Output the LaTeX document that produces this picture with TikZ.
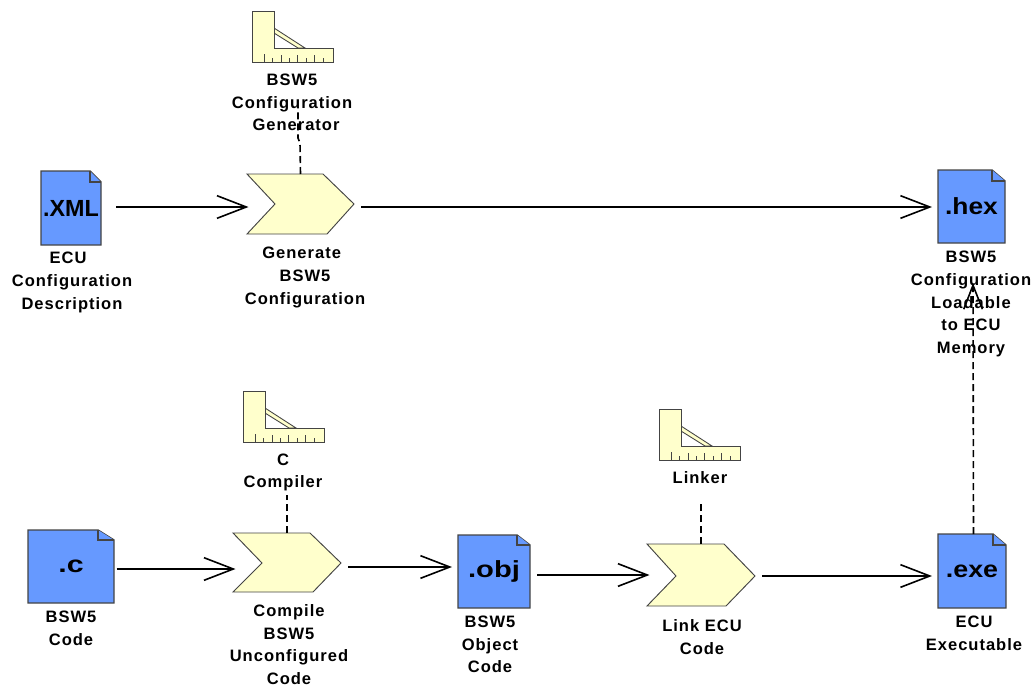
\documentclass[tikz,border=0pt]{standalone}
\usepackage{fontspec}
\usepackage{graphicx}
\usetikzlibrary{arrows.meta,calc}
\setmainfont{Liberation Sans}
\newfontfamily\labelfont[LetterSpace=6]{Liberation Sans}
\newfontfamily\docfont{Liberation Sans}
\definecolor{docblue}{HTML}{6699FF}
\definecolor{paleyellow}{HTML}{FFFFCC}
\definecolor{edge}{HTML}{444444}
\def\u{0.75pt}
\tikzset{
  docshape/.style={draw=edge,fill=docblue,line width=1.1pt,line join=miter},
  docfold/.style={draw=edge,fill=docblue,line width=0.8pt},
  chevshape/.style={draw=edge,fill=paleyellow,line width=0.7pt},
  rulershape/.style={draw=edge,fill=paleyellow,line width=0.65pt},
  rulertick/.style={draw=edge,line width=0.55pt},
  holder/.style={inner sep=0pt,outer sep=0pt},
  doctext/.style={holder,font=\docfont\fontsize{17.5}{20}\selectfont\bfseries,text=black},
  lab/.style={holder,align=center,text=black,font=\labelfont\fontsize{12.4}{17}\selectfont\bfseries},
  flow/.style={draw=black,line width=1.2pt,-{Straight Barb[length=22pt,width=17pt,line width=1.2pt]}},
  tie/.style={draw=black,line width=1.2pt,dash pattern=on 5.25pt off 3pt},
  tiearrow/.style={tie,-{Straight Barb[length=18pt,width=14pt,line width=1.2pt]}}
}
% name, x0, y0, x1, y1, fold w, fold h, text
\newcommand\docat[8]{%
  \path[docshape] (#2,#3) -- ({#4-#6},#3) -- (#4,{#3+#7}) -- (#4,#5) -- (#2,#5) -- cycle;
  \path[docfold] ({#4-#6},#3) -- ({#4-#6},{#3+#7}) -- (#4,{#3+#7});
  \node[doctext,minimum width={(#4-#2)*\u},minimum height={(#5-#3)*\u}] (#1) at ({(#2+#4)/2},{(#3+#5)/2}) {#8};
}
% name, left, top, notch, top right, tip, midy, bottom right, bottom
\newcommand\chevat[9]{%
  \path[chevshape] (#2,#3) -- (#5,#3) -- (#6,#7) -- (#8,#9) -- (#2,#9) -- (#4,#7) -- cycle;
  \node[holder,minimum width={(#6-#2)*\u},minimum height={(#9-#3)*\u}] (#1) at ({(#2+#6)/2},{(#3+#9)/2}) {};
}
% name, left, top
\newcommand\rulerat[3]{%
  \begin{scope}[shift={(#2,#3)}]
    \path[rulershape] (22,17) -- (53,37) -- (46,37) -- (22,22) -- cycle;
    \path[rulershape] (0,0) -- (22,0) -- (22,37) -- (81,37) -- (81,51) -- (0,51) -- cycle;
    \foreach \tx/\th in {12/8,20.5/4,29/7,37/4,45.5/7,54/4,62/7,71/4}
      \path[rulertick] (\tx,51) -- (\tx,{51-\th});
    \node[holder,minimum width={81*\u},minimum height={51*\u}] (#1) at (40.5,25.5) {};
  \end{scope}
}
\begin{document}
\begin{tikzpicture}[x=\u,y=-\u]
\useasboundingbox (0,0) rectangle (1033,686);

\docat{xml}{41}{171}{101}{245}{11}{11}{.XML}
\docat{hex}{938}{170}{1005}{243}{13}{11}{\raisebox{-0.75pt}{\scalebox{1.13}[1]{.hex}}}
\docat{csrc}{28}{530}{114}{603}{16}{10}{\raisebox{-2pt}{\scalebox{1.3}[1]{.c}}}
\docat{obj}{458}{535}{530}{608}{13}{10}{\raisebox{-2pt}{\scalebox{1.25}[1]{.obj}}}
\docat{exe}{938}{534}{1006}{608}{13}{11}{\raisebox{-2.5pt}{\scalebox{1.15}[1]{.exe}}}

\chevat{gen}{247}{174}{275}{323}{354}{204}{327}{234}
\chevat{comp}{233}{533}{262}{310}{341}{563}{313}{592}
\chevat{link}{647}{544}{676}{724}{755}{576}{726}{606}

\rulerat{genTool}{252}{11}
\rulerat{compTool}{243}{391}
\rulerat{linkTool}{659}{409}

\coordinate (genTieA) at (300,143);
\coordinate (genTieB) at (298,138);
\coordinate (genTieEnd) at (298,107);
\coordinate (compTieEnd) at (287,495);
\coordinate (linkTieEnd) at (701,502);

\draw[flow] ([xshift=15*\u,yshift=1*\u]xml.east) -- ([xshift=1.5*\u,yshift=-3*\u]gen.west);
\draw[flow] ([xshift=7*\u,yshift=-3*\u]gen.east) -- ([xshift=-6*\u,yshift=-0.5*\u]hex.west);
\draw[flow] ([xshift=2.5*\u,yshift=-2.5*\u]csrc.east) -- ([xshift=2.5*\u,yshift=-6.5*\u]comp.west);
\draw[flow] ([xshift=7*\u,yshift=-4.5*\u]comp.east) -- ([xshift=-6*\u,yshift=4.5*\u]obj.west);
\draw[flow] ([xshift=7*\u,yshift=-3.5*\u]obj.east) -- ([xshift=2.5*\u]link.west);
\draw[flow] ([xshift=7*\u,yshift=-1*\u]link.east) -- ([xshift=-6*\u,yshift=-5*\u]exe.west);

\draw[tie] (gen.north) -- (genTieA) -- (genTieB) -- (genTieEnd);
\draw[tie] (comp.north) -- (compTieEnd);
\draw[tie] (link.north) -- (linkTieEnd);
\draw[tiearrow] ([xshift=1.5*\u]exe.north) -- ([xshift=1.5*\u,yshift=-40*\u]hex.south);

\node[lab] (lgenTool) at (292,102.5) {BSW5\\Configuration\\\hspace*{6pt}Generator};
\node[lab] (lxml) at (72,282.5) {\hspace*{-6pt}ECU\\Configuration\\Description};
\node[lab] (lgen) at (305,277.5) {\hspace*{-5pt}Generate\\BSW5\\Configuration};
\node[lab] (lhex) at (971,304) {BSW5\\Configuration\\Loadable\\to ECU\\Memory};
\node[lab] (lcompTool) at (283,472.5) {C\\Compiler};
\node[lab] (lcsrc) at (71,628.5) {BSW5\\Code};
\node[lab] (lcomp) at (289,644.5) {Compile\\BSW5\\Unconfigured\\Code};
\node[lab] (lobj) at (490,644.5) {BSW5\\Object\\Code};
\node[lab] (llinkTool) at (700,478) {Linker};
\node[lab] (llink) at (702,637) {Link ECU\\Code};
\node[lab] (lexe) at (974,633.5) {ECU\\Executable};
\end{tikzpicture}
\end{document}
